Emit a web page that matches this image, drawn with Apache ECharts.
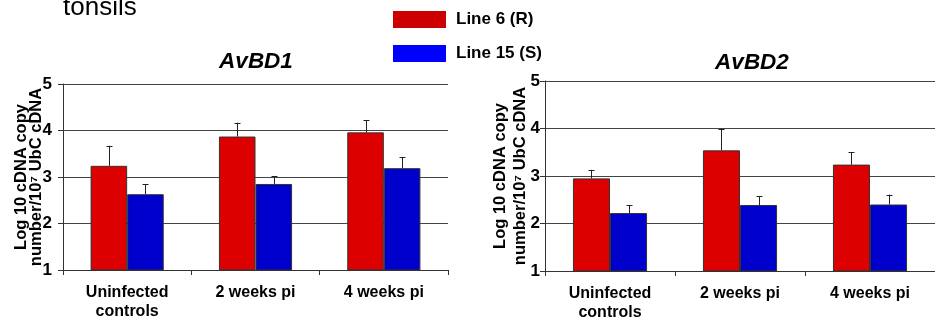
<!DOCTYPE html>
<html><head><meta charset="utf-8">
<script src="https://cdn.jsdelivr.net/npm/echarts@6/dist/echarts.min.js"></script>
<style>html,body{margin:0;padding:0;background:#fff}#c{width:935px;height:322px}</style>
</head><body><div id="c"></div>
<script>
const categories = ['Uninfected\ncontrols', '2 weeks pi', '4 weeks pi'];
const seriesNames = ['Line 6 (R)', 'Line 15 (S)'];
const avbd1Line6 = [3.24, 3.87, 3.96];
const avbd1Line6Err = [0.43, 0.30, 0.26];
const avbd1Line15 = [2.63, 2.85, 3.19];
const avbd1Line15Err = [0.21, 0.17, 0.24];
const avbd2Line6 = [2.95, 3.54, 3.24];
const avbd2Line6Err = [0.18, 0.46, 0.26];
const avbd2Line15 = [2.22, 2.39, 2.40];
const avbd2Line15Err = [0.16, 0.18, 0.21];
const yTicks = [1, 2, 3, 4, 5];
const titles = ['AvBD1', 'AvBD2'];
const yName = 'Log 10 cDNA copy\nnumber/10\u2077 UbC cDNA';

const barRed = '#DD0000', barBlue = '#0000CC';
const FONT = 'Liberation Sans, Arial, sans-serif';
const GAP = 0.43;

const chart = echarts.init(document.getElementById('c'), null, {renderer: 'canvas'});

function errSeries(idx, vals, errs, side) {
  return {
    type: 'custom', xAxisIndex: idx, yAxisIndex: idx, z: 5, silent: true,
    data: vals.map((v, i) => [i, v, v + errs[i]]),
    renderItem: function (params, api) {
      const cat = api.value(0);
      const top = api.coord([cat, api.value(2)]);
      const base = api.coord([cat, api.value(1)]);
      const catW = api.size([1, 0])[0];
      const bw = catW * (1 - GAP) / 2;
      const x = Math.round(top[0] + side * bw / 2) + 0.5;
      const st = {stroke: '#222', lineWidth: 1};
      return {type: 'group', children: [
        {type: 'line', shape: {x1: x, y1: base[1], x2: x, y2: top[1]}, style: st},
        {type: 'line', shape: {x1: x - 3, y1: Math.round(top[1]) + 0.5, x2: x + 3, y2: Math.round(top[1]) + 0.5}, style: st}
      ]};
    }
  };
}

function xAx(idx) {
  return {
    type: 'category', gridIndex: idx, data: categories,
    axisLine: {lineStyle: {color: '#333', width: 1}},
    axisTick: {show: true, length: 5, interval: 0, alignWithLabel: false, lineStyle: {color: '#333'}},
    axisLabel: {color: '#000', fontFamily: FONT, fontWeight: 'bold', fontSize: 16, margin: 13, lineHeight: 19, interval: 0}
  };
}
function yAx(idx, gap, lh, margin) {
  return {
    type: 'value', gridIndex: idx, min: 1, max: 5, interval: 1,
    name: yName, nameLocation: 'middle', nameRotate: 90, nameGap: gap, nameMoveOverlap: false,
    nameTextStyle: {color: '#000', fontFamily: FONT, fontWeight: 'bold', fontSize: 16.5, lineHeight: lh},
    axisLine: {show: true, lineStyle: {color: '#333', width: 1}},
    axisTick: {show: true, length: 5, lineStyle: {color: '#333'}},
    axisLabel: {color: '#000', fontFamily: FONT, fontWeight: 'bold', fontSize: 17, margin: margin,
      formatter: v => yTicks.includes(v) ? String(v) : ''},
    splitLine: {show: true, lineStyle: {color: '#444', width: 1}}
  };
}
function bar(idx, name, vals, color) {
  return {
    type: 'bar', name: name, xAxisIndex: idx, yAxisIndex: idx, data: vals,
    barGap: '0%', barCategoryGap: (GAP * 100) + '%',
    itemStyle: {color: color, borderColor: '#333', borderWidth: 1}
  };
}

chart.setOption({
  animation: false,
  backgroundColor: '#fff',
  title: [
    {text: titles[0], left: 251, top: 45, textAlign: 'center',
      textStyle: {fontFamily: FONT, fontWeight: 'bold', fontStyle: 'italic', fontSize: 22.5, color: '#000'}},
    {text: titles[1], left: 747, top: 46, textAlign: 'center',
      textStyle: {fontFamily: FONT, fontWeight: 'bold', fontStyle: 'italic', fontSize: 22.5, color: '#000'}}
  ],
  legend: {
    orient: 'vertical', left: 393, top: 11, padding: 0, itemWidth: 53, itemHeight: 17, itemGap: 17,
    icon: 'rect',
    data: [
      {name: seriesNames[0], itemStyle: {color: '#CC0000', borderWidth: 0}},
      {name: seriesNames[1], itemStyle: {color: '#0000FF', borderWidth: 0}}
    ],
    textStyle: {fontFamily: FONT, fontWeight: 'bold', fontSize: 17, color: '#000', padding: [0, 0, 0, 5]}
  },
  graphic: [
    {type: 'text', x: 63, y: 21, style: {text: 'tonsils', font: '26px ' + FONT, fill: '#000', verticalAlign: 'bottom'}}
  ],
  grid: [
    {left: 63, top: 84, width: 385, height: 186},
    {left: 545, top: 81, width: 400, height: 193}
  ],
  xAxis: [xAx(0), xAx(1)],
  yAxis: [yAx(0, 19, 15, 11), yAx(1, 15, 20, 5)],
  series: [
    bar(0, seriesNames[0], avbd1Line6, barRed),
    bar(0, seriesNames[1], avbd1Line15, barBlue),
    bar(1, seriesNames[0], avbd2Line6, barRed),
    bar(1, seriesNames[1], avbd2Line15, barBlue),
    errSeries(0, avbd1Line6, avbd1Line6Err, -1),
    errSeries(0, avbd1Line15, avbd1Line15Err, 1),
    errSeries(1, avbd2Line6, avbd2Line6Err, -1),
    errSeries(1, avbd2Line15, avbd2Line15Err, 1)
  ]
});
</script></body></html>
